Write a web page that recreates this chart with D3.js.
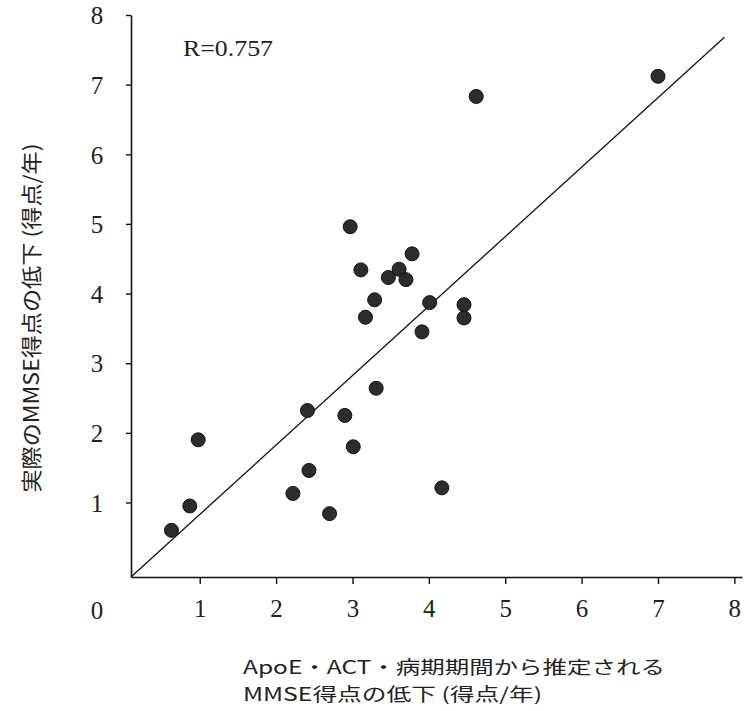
<!DOCTYPE html>
<html>
<head>
<meta charset="utf-8">
<script src="https://cdn.jsdelivr.net/npm/d3@7"></script>
<style>
  html, body { margin: 0; padding: 0; background: #fff; }
  svg { display: block; }
</style>
</head>
<body>
<svg id="chart" width="745" height="711"></svg>
<script>
// ---- data ----
const predicted = [0.63, 0.87, 0.98, 2.22, 2.41, 2.43, 2.70, 2.90, 3.01, 3.31,
                   2.97, 3.11, 3.17, 3.29, 3.47, 3.61, 3.70, 3.78, 3.91, 4.01,
                   4.46, 4.46, 4.17, 4.62, 7.00];
const actual    = [0.60, 0.95, 1.90, 1.13, 2.32, 1.46, 0.84, 2.25, 1.80, 2.64,
                   4.96, 4.34, 3.66, 3.91, 4.23, 4.35, 4.20, 4.57, 3.45, 3.87,
                   3.84, 3.65, 1.21, 6.83, 7.12];
const fitLineX = [0.10, 7.87];
const fitLineY = [-0.07, 7.68];
const xTicks = [1, 2, 3, 4, 5, 6, 7, 8];
const yTicks = [1, 2, 3, 4, 5, 6, 7, 8];
const originLabel = "0";
const rLabel = "R=0.757";
const yTitle = "実際のMMSE得点の低下 (得点/年)";
const xTitle = ["ApoE・ACT・病期期間から推定される", "MMSE得点の低下 (得点/年)"];

// ---- layout ----
const svg = d3.select("#chart");
const x = d3.scaleLinear().domain([0.10, 8.10]).range([131, 742]);
const y = d3.scaleLinear().domain([-0.07, 8.0]).range([577, 15]);
const numFont = "'Liberation Serif', 'DejaVu Serif', serif";
const jpFont = "'Noto Sans CJK JP', 'Noto Sans', sans-serif";

// x axis
const xAxis = svg.append("g")
  .attr("transform", `translate(0,${y.range()[0]})`)
  .call(d3.axisBottom(x).tickValues(xTicks).tickSize(7).tickSizeOuter(0));
// y axis
const yAxis = svg.append("g")
  .attr("transform", `translate(${x.range()[0]},0)`)
  .call(d3.axisLeft(y).tickValues(yTicks).tickSize(5).tickSizeOuter(0));

[xAxis, yAxis].forEach(g => {
  g.attr("font-family", numFont).attr("font-size", 25);
  g.select(".domain").attr("stroke", "#111").attr("stroke-width", 1.6);
  g.selectAll(".tick line").attr("stroke", "#111").attr("stroke-width", 1.4);
  g.selectAll(".tick text")
    .style("font-family", numFont)
    .style("font-size", "25px")
    .attr("fill", "#222");
});
xAxis.selectAll(".tick text").attr("dy", "0.35em").attr("y", 31);
yAxis.selectAll(".tick text").attr("text-anchor", "middle").attr("x", -34).attr("dy", "0.35em");

// origin label
svg.append("text")
  .attr("x", x.range()[0] - 34)
  .attr("y", y.range()[0] + 33)
  .attr("dy", "0.35em")
  .attr("text-anchor", "middle")
  .style("font-family", numFont)
  .style("font-size", "25px")
  .attr("fill", "#222")
  .text(originLabel);

// fitted line
svg.append("line")
  .attr("x1", x(fitLineX[0])).attr("y1", y(fitLineY[0]))
  .attr("x2", x(fitLineX[1])).attr("y2", y(fitLineY[1]))
  .attr("stroke", "#111")
  .attr("stroke-width", 1.3);

// points
svg.append("g")
  .selectAll("circle")
  .data(predicted.map((v, i) => [v, actual[i]]))
  .join("circle")
  .attr("cx", d => x(d[0]))
  .attr("cy", d => y(d[1]))
  .attr("r", 7)
  .attr("fill", "#2c2c2c")
  .attr("stroke", "#111")
  .attr("stroke-width", 1);

// R label
svg.append("text")
  .attr("x", 183)
  .attr("y", 48)
  .attr("dy", "0.35em")
  .style("font-family", numFont)
  .style("font-size", "23px")
  .attr("fill", "#222")
  .attr("textLength", 90)
  .attr("lengthAdjust", "spacingAndGlyphs")
  .text(rLabel);

// y title
svg.append("text")
  .attr("transform", "translate(30,318) rotate(-90)")
  .attr("text-anchor", "middle")
  .attr("dominant-baseline", "central")
  .style("font-family", jpFont)
  .style("font-size", "21px")
  .attr("fill", "#222")
  .attr("textLength", 349)
  .attr("lengthAdjust", "spacingAndGlyphs")
  .text(yTitle);

// x title (two lines)
const xt = svg.append("g").style("font-family", jpFont).style("font-size", "18px").attr("fill", "#222");
xt.append("text").attr("x", 243).attr("y", 674)
  .attr("textLength", 422).attr("lengthAdjust", "spacingAndGlyphs").text(xTitle[0]);
xt.append("text").attr("x", 243).attr("y", 701)
  .attr("textLength", 299).attr("lengthAdjust", "spacingAndGlyphs").text(xTitle[1]);
</script>
</body>
</html>
